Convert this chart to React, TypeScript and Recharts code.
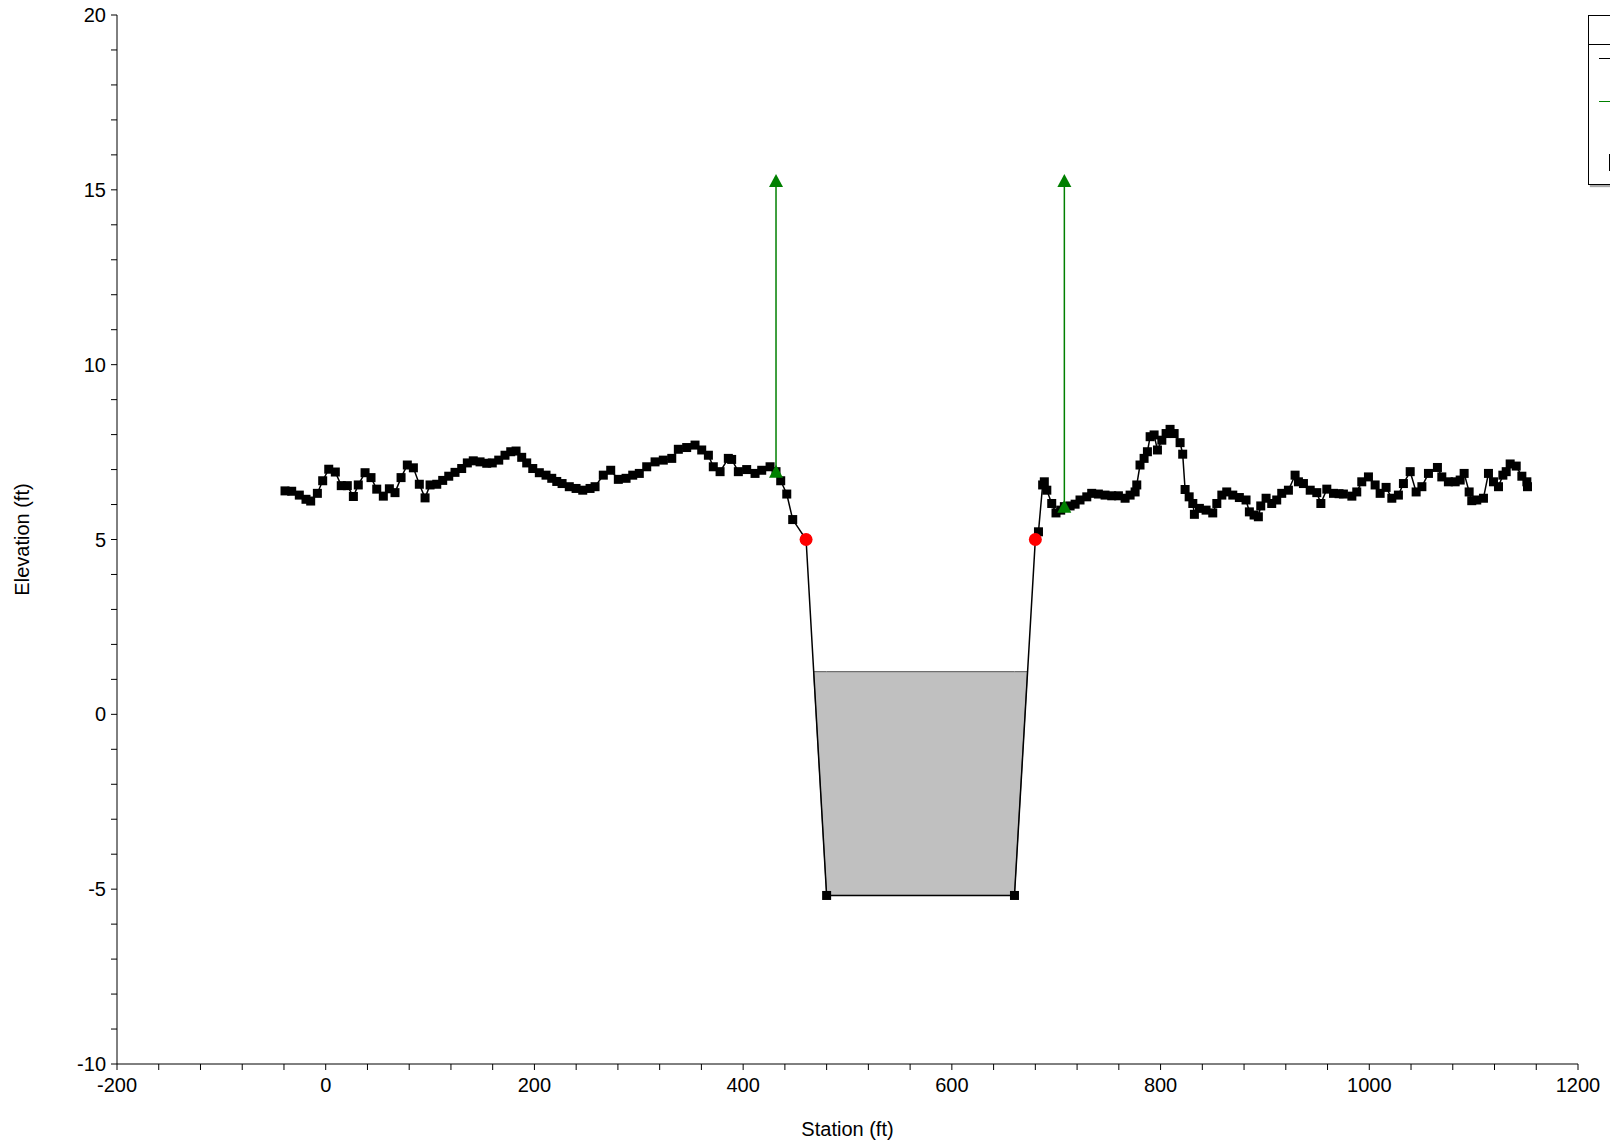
import React from "react";
import { ComposedChart, Area, Scatter, XAxis, YAxis, Label } from "recharts";

// ground profile: [station ft, elevation ft]
const ground: [number, number][] = [
  [-39, 6.39], [-32.6, 6.38], [-25.3, 6.27], [-18.9, 6.15], [-14.4, 6.1], [-8, 6.32],
  [-2.9, 6.68], [2.9, 7.01], [9.2, 6.93], [14.9, 6.54], [20.7, 6.54], [26.5, 6.23],
  [31.2, 6.56], [37.7, 6.91], [43.4, 6.77], [48.9, 6.44], [55.2, 6.24], [61, 6.45],
  [66.4, 6.34], [72.2, 6.77], [78.2, 7.13], [84, 7.05], [89.7, 6.58], [95.2, 6.19],
  [100, 6.56], [106.4, 6.58], [112.1, 6.69], [117.9, 6.81], [123.9, 6.92], [130.3, 7.03],
  [135.7, 7.19], [141.4, 7.25], [147.9, 7.22], [154.3, 7.18], [159.6, 7.19], [165.8, 7.27],
  [171.8, 7.41], [177.3, 7.51], [182.4, 7.53], [187.8, 7.35], [192.6, 7.19], [198.4, 7.03],
  [204.7, 6.91], [211.1, 6.84], [216.6, 6.75], [221.4, 6.66], [226.5, 6.6], [233.4, 6.51],
  [239.9, 6.46], [246.3, 6.41], [253.3, 6.46], [258.1, 6.51], [266, 6.84], [273.1, 6.98],
  [280.4, 6.72], [287.8, 6.75], [294.2, 6.84], [300.5, 6.89], [307.6, 7.08], [315.6, 7.22],
  [323.5, 7.27], [331.6, 7.32], [337.9, 7.58], [345.9, 7.63], [353.9, 7.7], [360.3, 7.56],
  [366.7, 7.41], [371.4, 7.08], [377.9, 6.94], [385.8, 7.32], [389, 7.29], [395.4, 6.94],
  [403.4, 7.0], [411.4, 6.89], [417.8, 6.98], [425.8, 7.08], [431.5, 6.94], [436, 6.68],
  [441.8, 6.3], [447.5, 5.57], [460.3, 5.0], [480, -5.18], [660, -5.18], [680, 5.0],
  [683, 5.22], [687, 6.56], [688.6, 6.65], [691, 6.41], [695.7, 6.03], [699.8, 5.76],
  [704.3, 5.84], [707.8, 5.94], [713.3, 5.96], [718.1, 6.01], [722.8, 6.13], [729.3, 6.22],
  [734, 6.32], [740.4, 6.3], [746.8, 6.27], [753.2, 6.25], [759.6, 6.25], [766, 6.18],
  [770.8, 6.27], [775.6, 6.36], [777.2, 6.56], [780.3, 7.13], [784.2, 7.32], [787.4, 7.51],
  [790, 7.94], [793.8, 7.99], [797, 7.56], [801.2, 7.84], [805.3, 8.03], [809.1, 8.15],
  [813, 8.03], [818.7, 7.77], [821.2, 7.44], [823.5, 6.43], [827.4, 6.22], [830.9, 6.03],
  [832.4, 5.72], [837.2, 5.89], [843.6, 5.84], [850, 5.76], [853.9, 6.03], [858.7, 6.27],
  [863.4, 6.36], [869.2, 6.27], [875.5, 6.2], [881.9, 6.13], [885.1, 5.79], [889.6, 5.7],
  [893.7, 5.65], [896, 5.96], [901.1, 6.18], [906.5, 6.03], [911.3, 6.13], [916.1, 6.32],
  [922.5, 6.41], [928.9, 6.84], [932.1, 6.65], [936.9, 6.6], [943.4, 6.41], [949.7, 6.34],
  [953.6, 6.03], [959.3, 6.44], [965.7, 6.32], [971, 6.31], [975.2, 6.3], [983.3, 6.24],
  [988, 6.36], [992.8, 6.65], [999.2, 6.79], [1005.6, 6.56], [1010.4, 6.32], [1016.1, 6.49],
  [1021.6, 6.18], [1027.9, 6.27], [1032.7, 6.6], [1039.2, 6.94], [1044.9, 6.36], [1050.4, 6.51],
  [1056.7, 6.89], [1065.3, 7.06], [1069.5, 6.79], [1075.8, 6.65], [1082.3, 6.65], [1087.1, 6.7],
  [1090.9, 6.89], [1095.7, 6.36], [1098.2, 6.11], [1103, 6.13], [1109.4, 6.18], [1114.2, 6.89],
  [1119, 6.65], [1123.8, 6.51], [1128, 6.84], [1131.2, 6.94], [1135, 7.16], [1140.8, 7.1],
  [1146.2, 6.81], [1151, 6.65], [1151.6, 6.51],
];

// water surface in the channel
const wsElevation = 1.22;
const waterStations = [467.5, 480, 660, 672.5];
const waterBed = [1.22, -5.18, -5.18, 1.22];

// ineffective flow limits
const ineffLeft: [number, number][] = [[431.5, 6.94], [431.5, 15.25]];
const ineffRight: [number, number][] = [[707.8, 5.94], [707.8, 15.25]];

// bank stations
const bankStations: [number, number][] = [[460.3, 5.0], [680, 5.0]];

const xLabels = [-200, 0, 200, 400, 600, 800, 1000, 1200];
const yLabels = [-10, -5, 0, 5, 10, 15, 20];
const xTicks = Array.from({ length: 36 }, (_, i) => -200 + i * 40);
const yTicks = Array.from({ length: 31 }, (_, i) => -10 + i);

const toRows = (pts: [number, number][]) => pts.map(([x, y]) => ({ x, y }));
const waterRows = waterStations.map((x, i) => ({ x, wet: [waterBed[i], wsElevation] }));

const FONT = "'Liberation Sans', Arial, sans-serif";
const tickStyle = { fill: "#000", fontSize: 20, fontFamily: FONT };

const Square = (p: any) => <rect x={p.cx - 4.5} y={p.cy - 4.5} width={9} height={9} fill="#000" />;
const Triangle = (p: any) => (
  <polygon points={`${p.cx},${p.cy - 7} ${p.cx - 7},${p.cy + 6} ${p.cx + 7},${p.cy + 6}`} fill="#008000" />
);
const Dot = (p: any) => <circle cx={p.cx} cy={p.cy} r={6.5} fill="#ff0000" />;

export default function App() {
  return (
    <div style={{ position: "absolute", left: 0, top: 0, width: 1610, height: 1146, overflow: "hidden", background: "#fff" }}>
      <ComposedChart width={1610} height={1146} data={waterRows} margin={{ top: 15, right: 32, bottom: 0, left: 0 }}>
        <XAxis
          type="number"
          dataKey="x"
          domain={[-200, 1200]}
          ticks={xTicks}
          interval={0}
          tickFormatter={(v: number) => (xLabels.includes(v) ? String(v) : "")}
          tickSize={6}
          tickMargin={8}
          height={82}
          stroke="#000"
          tick={tickStyle}
          allowDataOverflow
        >
          <Label
            content={({ viewBox }: any) => (
              <text x={viewBox.x + viewBox.width / 2} y={1129} textAnchor="middle" dominantBaseline="central" fontSize={20} fontFamily={FONT} fill="#000">
                Station (ft)
              </text>
            )}
          />
        </XAxis>
        <YAxis
          type="number"
          dataKey="y"
          domain={[-10, 20]}
          ticks={yTicks}
          interval={0}
          tickFormatter={(v: number) => (yLabels.includes(v) ? String(v) : "")}
          tickSize={6}
          tickMargin={5}
          width={117}
          stroke="#000"
          tick={tickStyle}
          allowDataOverflow
        >
          <Label
            content={({ viewBox }: any) => {
              const cx = viewBox.x + 22;
              const cy = viewBox.y + viewBox.height / 2;
              return (
                <text x={cx} y={cy} transform={`rotate(-90, ${cx}, ${cy})`} textAnchor="middle" dominantBaseline="central" fontSize={20} fontFamily={FONT} fill="#000">
                  Elevation (ft)
                </text>
              );
            }}
          />
        </YAxis>
        <Area dataKey="wet" type="linear" fill="#c0c0c0" fillOpacity={1} stroke="#555" strokeWidth={1} isAnimationActive={false} />
        <Scatter data={toRows(ground)} line={{ stroke: "#000", strokeWidth: 1.5 }} lineType="joint" shape={Square} isAnimationActive={false} />
        <Scatter data={toRows(ineffLeft)} line={{ stroke: "#008000", strokeWidth: 1.5 }} lineType="joint" shape={Triangle} isAnimationActive={false} />
        <Scatter data={toRows(ineffRight)} line={{ stroke: "#008000", strokeWidth: 1.5 }} lineType="joint" shape={Triangle} isAnimationActive={false} />
        <Scatter data={toRows(bankStations)} shape={Dot} isAnimationActive={false} />
      </ComposedChart>
      <div
        style={{
          position: "absolute",
          left: 1588,
          top: 15,
          width: 180,
          height: 168,
          border: "1.5px solid #000",
          background: "#fff",
          boxShadow: "2px 2px 1px #aaa",
        }}
      >
        <div style={{ position: "absolute", left: 0, right: 0, top: 28, borderTop: "1px solid #000" }} />
        <div style={{ position: "absolute", left: 10, width: 30, top: 42, borderTop: "1.5px solid #000" }} />
        <div style={{ position: "absolute", left: 10, width: 30, top: 85, borderTop: "1.5px solid #008000" }} />
        <div style={{ position: "absolute", left: 20, width: 14, top: 138, height: 15, border: "1.5px solid #000", background: "#c0c0c0" }} />
      </div>
    </div>
  );
}
